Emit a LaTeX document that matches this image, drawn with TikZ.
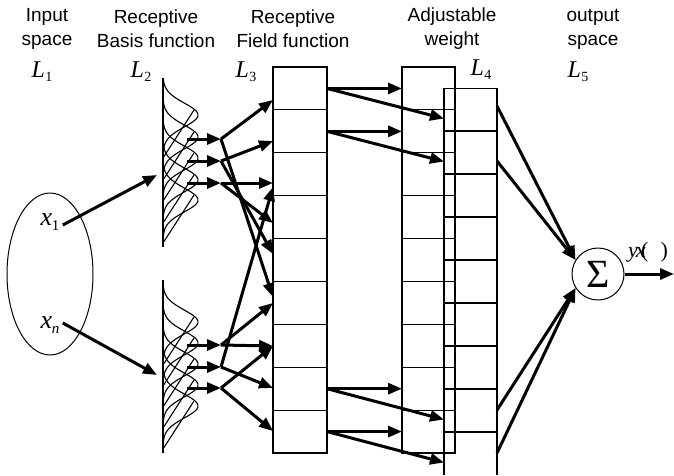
\documentclass[tikz,border=0pt]{standalone}
\usepackage{fontspec}
\setmainfont{Liberation Sans}
\newfontfamily\lserif{Liberation Serif}
\usetikzlibrary{arrows.meta,shapes.geometric,calc}
\newcommand\Lab[1]{{\lserif\fontsize{24}{24}\selectfont\itshape L\kern0.3pt\raisebox{-4pt}{\fontsize{14}{14}\selectfont\upshape #1}}}
\newcommand\Xlab[1]{{\lserif\fontsize{26}{26}\selectfont\itshape x\kern-0.5pt\raisebox{-5pt}{\fontsize{15}{15}\selectfont #1}}}
\begin{document}
\begin{tikzpicture}[x=1pt,y=-1pt,
  cell/.style={draw, line width=1.1pt, minimum height=42.9pt, inner sep=0pt, outer sep=0pt},
  arr/.style={line width=3pt, -{Triangle[length=14pt,width=11pt]}},
  thinline/.style={line width=1.1pt},
  title/.style={align=center, font=\fontsize{19}{24}\selectfont, inner sep=0pt}]
\useasboundingbox (0,0) rectangle (674,475);
% titles
\node[title] (h1) at (47,29) {Input\\space};
\node[title] (h2) at (156,29) {Receptive\\Basis function};
\node[title] (h3) at (293,29) {Receptive\\Field function};
\node[title] (h4) at (452,29) {Adjustable\\weight};
\node[title] (h5) at (593,29) {output\\space};
\node (l1) at (42,72) {\Lab{1}};
\node (l2) at (141,72) {\Lab{2}};
\node (l3) at (246,72) {\Lab{3}};
\node (l4) at (481,70) {\Lab{4}};
\node (l5) at (578,72) {\Lab{5}};
% input ellipse
\node[ellipse, draw, line width=1pt, minimum width=86pt, minimum height=162pt] (inp) at (50,274) {};
\node (x1) at (50,222) {\Xlab{\upshape 1}};
\node (xn) at (50,325) {\Xlab{n}};
\coordinate (g1) at (157,175);
\coordinate (g2) at (157,375);
\draw[arr] (x1.east) ++(0,3) coordinate (x1s) (x1s) -- (g1);
\draw[arr] (xn.east) ++(0,-2) coordinate (xns) (xns) -- (g2);
% basis functions
\foreach \c in {115,137,158,180,200, 322,343,364,385,406} {
  \draw[thinline] plot[domain=-36:36, samples=50, smooth] ({163+35*exp(-(\x*\x)/288)}, {\c+\x});
  \draw[thinline] (163,\c+43) -- (194,\c-5);
}
\draw[thinline] (163,78) -- (163,247);
\draw[thinline] (163,280) -- (163,453);
% receptive field column and weight columns
\foreach \i in {1,...,9} {
  \node[cell, minimum width=54pt] (f\i) at (300,{67+42.89*(\i-0.5)}) {};
  \node[cell, minimum width=53pt] (w\i) at (428.5,{67+42.89*(\i-0.5)}) {};
}
\foreach \i in {1,...,8} {
  \node[cell, minimum width=53pt] (v\i) at (470.5,{88+43*(\i-0.5)}) {};
}
\node[minimum width=53pt, minimum height=43pt, inner sep=0pt, outer sep=0pt] (v9) at (470.5,453.5) {};
\draw[thinline] (v9.north west) -- (v9.south west) (v9.north east) -- (v9.south east);
% L2 short arrows and junctions
\foreach \n/\y in {1/139,2/161,3/183,4/345,5/367,6/388} {
  \coordinate (s\n) at (187,\y);
  \coordinate (a\n) at (221,\y);
  \draw[arr] (s\n) -- (a\n);
}
% targets on L3 left edge
\foreach \n/\y in {100/100,141/141,183/183,186/187,223/223,253/254,297/297,303/303,345/346,388/388,430/431} {
  \coordinate (p\n) at (273,\y);
}
\draw[arr] (a1) -- (p100);
\draw[arr] (a1) -- (p297);
\draw[arr] (a2) -- (p141);
\draw[arr] (a2) -- (p253);
\draw[arr] (a3) -- (p183);
\draw[arr] (a3) -- (p223);
\draw[arr] (a4) -- (p303);
\draw[arr] (a4) -- (p345);
\draw[arr] (a5) -- (p186);
\draw[arr] (a5) -- (p388);
\draw[arr] (a6) -- (p345);
\draw[arr] (a6) -- (p430);
% L3 to weights
\foreach \i/\j in {1/1,2/2,8/8,9/9} {
  \draw[arr] (f\i.east) -- (w\i.west);
  \draw[arr] (f\i.east) -- ($(v\j.west)+(0,9)$);
}
% sum
\node[circle, draw, line width=1pt, minimum size=52pt, inner sep=0pt] (sum) at (598,274) {\lserif\fontsize{40}{40}\selectfont Σ};
\coordinate (o1) at (497,106);
\coordinate (o2) at (497,161);
\coordinate (o3) at (497,410);
\coordinate (o4) at (497,453);
\draw[arr] (o1) -- (sum.148);
\draw[arr] (o2) -- (sum.148);
\draw[arr] (o3) -- (sum.212);
\draw[arr] (o4) -- (sum.212);
\coordinate (out) at (674,274);
\draw[arr] (sum.east) -- (out);
\node[anchor=base west, inner sep=0pt] (ylab) at (628,257) {\lserif\fontsize{22}{22}\selectfont\itshape y\kern-2pt x\kern-4.5pt\upshape(\kern12pt)};
\end{tikzpicture}
\end{document}
